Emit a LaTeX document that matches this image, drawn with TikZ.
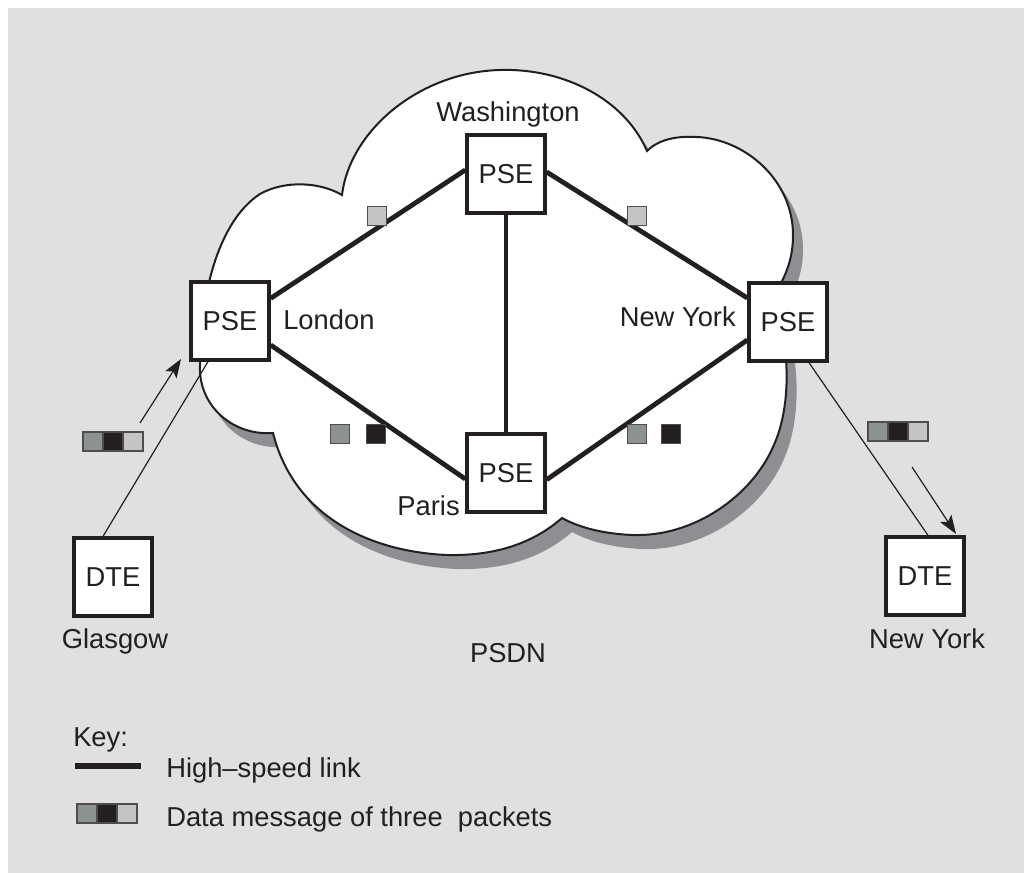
\documentclass[tikz,border=0pt]{standalone}
\usepackage{fontspec}
\setmainfont{Liberation Sans}
\usetikzlibrary{arrows.meta}

\definecolor{bg}{HTML}{E0E0E0}
\definecolor{ink}{HTML}{231F20}
\definecolor{cloudshadow}{HTML}{8F8E93}
\definecolor{pkgray}{HTML}{8C9291}
\definecolor{pklight}{HTML}{C4C4C4}
\definecolor{pkdark}{HTML}{231F20}

% outline of the network cloud
\def\cloudoutline{(342,195) .. controls (350,130) and (420,72) .. (500,70)
  .. controls (565,68) and (625,100) .. (647,151)
  .. controls (660,138) and (680,136) .. (697,137)
  .. controls (745,139) and (793,180) .. (793,235)
  .. controls (793,255) and (788,270) .. (780,285)
  -- (782,330)
  .. controls (790,370) and (788,415) .. (773,447)
  .. controls (752,495) and (695,537) .. (633,535)
  .. controls (605,534) and (580,528) .. (562,518)
  .. controls (530,546) and (490,556) .. (447,555)
  .. controls (375,552) and (295,520) .. (273,433)
  .. controls (232,436) and (198,405) .. (200,365)
  .. controls (200,290) and (220,220) .. (260,194)
  .. controls (285,180) and (320,182) .. (342,195) -- cycle}

\tikzset{
  every node/.style={font=\fontsize{20.5}{24}\selectfont, text=ink},
  box/.style={draw=ink, fill=white, line width=3pt, minimum width=58pt,
    minimum height=58pt, inner sep=0pt},
  label/.style={inner sep=0pt},
  link/.style={draw=ink, line width=3.6pt},
  thinline/.style={draw=ink, line width=0.9pt},
  flow/.style={draw=ink, line width=0.9pt,
    -{Stealth[length=14pt,width=10pt,inset=3pt]}},
  pkt/.style={draw=ink!80, line width=0.8pt, minimum size=14pt, inner sep=0pt},
  keyline/.style={draw=ink, line width=4.5pt},
  msg/.pic={
    \draw[draw=ink!80, line width=0.8pt, fill=pkgray]  (0,0)  rectangle (20,19);
    \draw[draw=ink!80, line width=0.8pt, fill=pkdark]  (20,0) rectangle (40,19);
    \draw[draw=ink!80, line width=0.8pt, fill=pklight] (40,0) rectangle (60,19);
  }
}

\begin{document}
\begin{tikzpicture}[x=0.75pt, y=-0.75pt]
\useasboundingbox (0,0) rectangle (1024,873);
\fill[bg] (8,8) rectangle (1024,873);

% cloud with its drop shadow
\fill[cloudshadow, shift={(10,14)}] \cloudoutline;
\filldraw[fill=white, draw=ink, line width=1.5pt] \cloudoutline;

% switching exchanges and terminals
\node[box] (was) at (506,174) {PSE};
\node[box] (lon) at (230,321) {PSE};
\node[box] (nyk) at (788,322) {PSE};
\node[box] (par) at (506,473) {PSE};
\node[box] (gla) at (113,577) {DTE};
\node[box] (nyd) at (925,576) {DTE};

% high-speed links
\draw[link] ([yshift=17pt]lon.east) -- ([yshift=3pt]was.west);
\draw[link] ([yshift=1.5pt]was.east) -- ([yshift=18pt]nyk.west);
\draw[link] (was.south) -- (par.north);
\draw[link] ([yshift=-18pt]lon.east) -- ([yshift=-4.5pt]par.west);
\draw[link] ([yshift=-5pt]par.east) -- ([yshift=-13.5pt]nyk.west);

% packets in transit
\node[pkt, fill=pklight] (q1) at (377,216) {};
\node[pkt, fill=pklight] (q2) at (637,216) {};
\node[pkt, fill=pkgray]  (q3) at (340,434) {};
\node[pkt, fill=pkdark]  (q4) at (376,434) {};
\node[pkt, fill=pkgray]  (q5) at (637,434) {};
\node[pkt, fill=pkdark]  (q6) at (671,434) {};

% access lines to the terminals
\draw[thinline] ([xshift=-7.5pt]gla.north) -- ([xshift=-16.5pt]lon.south);
\draw[thinline] ([xshift=15.75pt]nyk.south) -- ([xshift=2.25pt]nyd.north);

% direction of the message
\coordinate (a1) at (140,423);
\coordinate (a2) at (181,359);
\draw[flow] (a1) -- (a2);
\coordinate (b1) at (912,467);
\coordinate (b2) at (956,534);
\draw[flow] (b1) -- (b2);
\pic at (83,432) {msg};
\pic at (868,422) {msg};

% place names
\node[label, anchor=base] (lwas) at (508,122) {Washington};
\node[label, anchor=base west] (llon) at (283,330) {London};
\node[label, anchor=base east] (lnyk) at (736,327) {New York};
\node[label, anchor=base east] (lpar) at (460,515) {Paris};
\node[label, anchor=base] (lgla) at (115,648) {Glasgow};
\node[label, anchor=base] (lnyd) at (927,648) {New York};
\node[label, anchor=base] (lpsdn) at (508,662) {PSDN};

% key
\node[label, anchor=base west] (key) at (73,746) {Key:};
\coordinate (k1) at (75,766);
\coordinate (k2) at (141,766);
\draw[keyline] (k1) -- (k2);
\node[label, anchor=base west] (khs) at (166,777) {High--speed link};
\pic at (77,804) {msg};
\node[label, anchor=base west] (kdm) at (166,826) {Data message of three\ \ packets};
\end{tikzpicture}
\end{document}
